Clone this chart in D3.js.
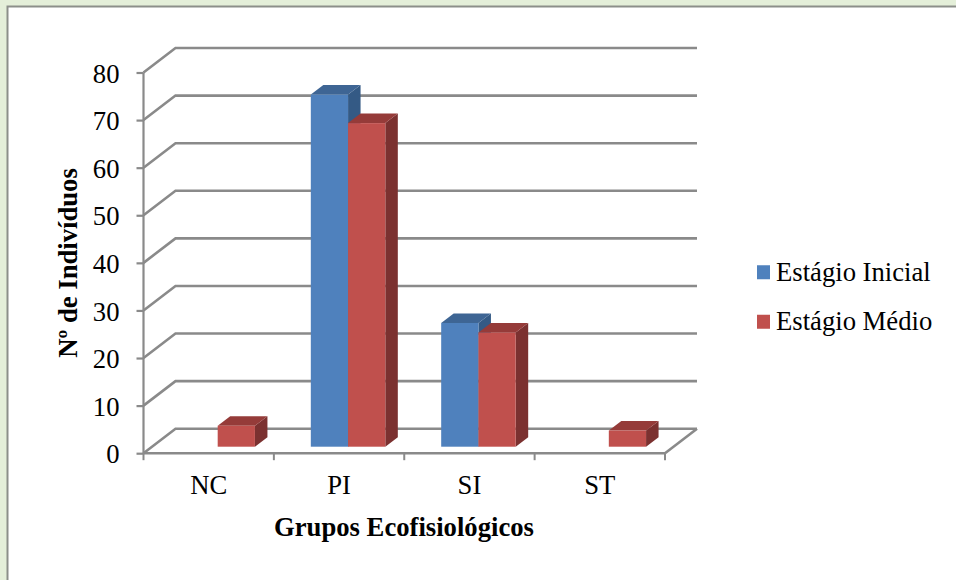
<!DOCTYPE html>
<html>
<head>
<meta charset="utf-8">
<script src="https://cdn.jsdelivr.net/npm/d3@7"></script>
<style>
  html, body { margin: 0; padding: 0; background: #fff; }
  svg { display: block; }
  text { font-family: "Liberation Serif", serif; fill: #000; }
</style>
</head>
<body>
<script>
const categories = ['NC', 'PI', 'SI', 'ST']
const seriesNames = ['Estágio Inicial', 'Estágio Médio']
const inicial = [0, 74, 26, 0]
const medio = [4.4, 68, 24, 3.4]
const yTicks = [0, 10, 20, 30, 40, 50, 60, 70, 80]
const faceColors = ['#4f81bd', '#c0504d']
const topColors = ['#3e6594', '#953b39']
const sideColors = ['#345a85', '#7b3130']

const gray = '#8a8a8a'
const fontSize = 26.67
const depth = { x: 32, y: -24.5 }
const barDepth = { x: 12.5, y: -9.5 }
const barShift = { x: 9, y: -6.5 }

const svg = d3.select('body').append('svg')
    .attr('width', 956)
    .attr('height', 580)

// page background and frame
svg.append('rect').attr('width', 956).attr('height', 580).attr('fill', '#e4efd9')
svg.append('rect').attr('x', 7.5).attr('y', 6.5).attr('width', 960).attr('height', 590)
    .attr('fill', '#fff').attr('stroke', '#8c8f8a').attr('stroke-width', 2)

const y = d3.scaleLinear().domain([0, 80]).range([453.2, 72.5])
const x = d3.scaleBand().domain(categories).range([143.5, 665])
const x1 = d3.scaleBand().domain(seriesNames).range([0, 74.5])
const barH = v => y(0) - y(v)

// back wall gridlines and floor/side links
const grid = svg.append('g').attr('fill', 'none').attr('stroke', gray).attr('stroke-width', 2.6)
yTicks.forEach(t => {
    grid.append('path').attr('d', d3.line()([
        [x.range()[0], y(t)],
        [x.range()[0] + depth.x, y(t) + depth.y],
        [x.range()[1] + depth.x, y(t) + depth.y]
    ]))
})
grid.append('path').attr('d', d3.line()([
    [x.range()[1], y(0)],
    [x.range()[1] + depth.x, y(0) + depth.y]
]))

// y axis
const yAxis = svg.append('g')
    .attr('transform', `translate(${x.range()[0]},0)`)
    .call(d3.axisLeft(y).tickValues(yTicks).tickSize(7).tickPadding(17).tickFormat(d3.format('d')))
yAxis.selectAll('path, line').attr('stroke', gray).attr('stroke-width', 2.2)
yAxis.select('.domain').attr('d', `M0,${y(80)}V${y(0)}`)
yAxis.selectAll('text').attr('font-size', fontSize).attr('font-family', '"Liberation Serif", serif').attr('fill', '#000')
    .attr('dy', '0.36em')

// x axis
const xAxis = svg.append('g')
    .attr('transform', `translate(0,${y(0)})`)
    .call(d3.axisBottom(x).tickSize(0).tickPadding(22))
xAxis.select('.domain').attr('stroke', gray).attr('stroke-width', 2.6)
    .attr('d', `M${x.range()[0]},0H${x.range()[1]}`)
xAxis.selectAll('text').attr('font-size', fontSize).attr('font-family', '"Liberation Serif", serif').attr('fill', '#000')
categories.forEach(c => {
    xAxis.append('line').attr('x1', x(c)).attr('x2', x(c)).attr('y1', 0).attr('y2', 7)
        .attr('stroke', gray).attr('stroke-width', 2)
})
xAxis.append('line').attr('x1', x.range()[1]).attr('x2', x.range()[1]).attr('y1', 0).attr('y2', 7)
    .attr('stroke', gray).attr('stroke-width', 2)

// 3d bars
const bars = svg.append('g')
;[inicial, medio].forEach((values, s) => {
    values.forEach((v, i) => {
        if (v === 0) return
        const x0 = x(categories[i]) + x.bandwidth() / 2 + barShift.x - x1.bandwidth() + x1(seriesNames[s])
        const w = x1.bandwidth()
        const yb = y(0) + barShift.y
        const yt = yb - barH(v)
        const dx = barDepth.x, dy = barDepth.y
        bars.append('path').attr('fill', sideColors[s])
            .attr('d', d3.line()([[x0 + w, yt], [x0 + w + dx, yt + dy], [x0 + w + dx, yb + dy], [x0 + w, yb]]) + 'Z')
        bars.append('path').attr('fill', topColors[s])
            .attr('d', d3.line()([[x0, yt], [x0 + dx, yt + dy], [x0 + w + dx, yt + dy], [x0 + w, yt]]) + 'Z')
        bars.append('rect').attr('x', x0).attr('y', yt).attr('width', w).attr('height', barH(v))
            .attr('fill', faceColors[s])
    })
})

// axis titles
svg.append('text').attr('x', 404).attr('y', 536).attr('text-anchor', 'middle')
    .attr('font-size', fontSize).attr('font-weight', 'bold').text('Grupos Ecofisiológicos')
svg.append('text').attr('transform', 'translate(77,263) rotate(-90)').attr('text-anchor', 'middle')
    .attr('font-size', fontSize).attr('font-weight', 'bold').text('Nº de Indivíduos')

// legend
const legendY = d3.scaleBand().domain(seriesNames).range([247, 346])
seriesNames.forEach((name, i) => {
    const cy = legendY(name) + legendY.bandwidth() / 2
    svg.append('rect').attr('x', 757).attr('y', cy - 6.5).attr('width', 13).attr('height', 14).attr('fill', faceColors[i])
    svg.append('text').attr('x', 776).attr('y', cy + 9).attr('font-size', fontSize).text(name)
})
</script>
</body>
</html>
